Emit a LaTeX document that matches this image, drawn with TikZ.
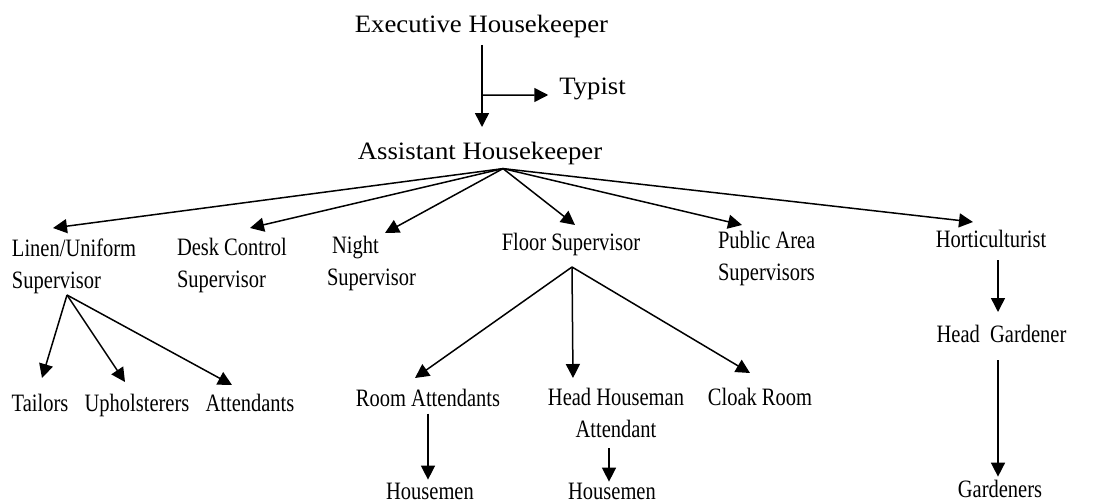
\documentclass[tikz,border=0pt]{standalone}
\usepackage{fontspec}
\usetikzlibrary{arrows.meta,calc}
\newfontfamily\topfont[FakeStretch=1.07]{Liberation Serif}
\newfontfamily\lowfont[FakeStretch=0.82]{Liberation Serif}
\tikzset{
  toplabel/.style={inner sep=0pt, outer sep=0pt, font=\topfont\fontsize{25}{32}\selectfont},
  lowlabel/.style={inner sep=0pt, outer sep=0pt, font=\lowfont\fontsize{25}{32}\selectfont},
  link/.style={line width=1.5pt, -{Triangle[length=14pt,width=14pt]}},
  plain/.style={line width=1.5pt}
}
\begin{document}
\begin{tikzpicture}[x=1pt,y=-1pt]
\path[use as bounding box, fill=white] (0,0) rectangle (1098,503);

% top levels
\node[toplabel, anchor=base] (exec) at (481.5,33) {Executive Housekeeper\strut};
\node[toplabel, anchor=base] (typist) at (592.5,95) {Typist\strut};
\node[toplabel, anchor=base] (ah) at (480,159) {Assistant Housekeeper\strut};

% second level
\node[lowlabel, anchor=north west, align=left] (linen) at (12,233.6) {Linen/Uniform\strut\\Supervisor\strut};
\node[lowlabel, anchor=north west, align=left] (desk) at (177,233) {Desk Control\strut\\Supervisor\strut};
\node[lowlabel, anchor=north west, align=left] (night) at (327,230.6) {\hspace*{5pt}Night\strut\\Supervisor\strut};
\node[lowlabel, anchor=base] (floor) at (571,250) {Floor Supervisor\strut};
\node[lowlabel, anchor=north west, align=left] (public) at (718,225.6) {Public Area\strut\\Supervisors\strut};
\node[lowlabel, anchor=base] (hort) at (991,247) {Horticulturist\strut};

% third level
\node[lowlabel, anchor=base] (tailors) at (40,411) {Tailors\strut};
\node[lowlabel, anchor=base] (uph) at (137,411) {Upholsterers\strut};
\node[lowlabel, anchor=base] (att) at (250,411) {Attendants\strut};
\node[lowlabel, anchor=base] (room) at (428,406) {Room Attendants\strut};
\node[lowlabel, anchor=north, align=center] (hh) at (616,382.6) {Head Houseman\strut\\Attendant\strut};
\node[lowlabel, anchor=base] (cloak) at (760,405) {Cloak Room\strut};
\node[lowlabel, anchor=base] (hg) at (1001.5,342) {Head~~Gardener\strut};

% fourth level (no struts: they sit at the bottom edge)
\node[lowlabel, anchor=base] (hm1) at (430,499) {Housemen};
\node[lowlabel, anchor=base] (hm2) at (612,499) {Housemen};
\node[lowlabel, anchor=base] (gd) at (1000,497) {Gardeners};

% executive to assistant, with typist branch
\draw[link] ($(exec.south)+(0.5,2.4)$) -- ($(ah.north)+(2,-9.6)$);
\coordinate (br) at ($(exec.south)+(0.5,52.4)$);
\draw[link] (br) -- ($(typist.base west)+(-11,0)$);

% fan from assistant housekeeper
\coordinate (apex) at ($(ah.south)+(23,0)$);
\draw[link] (apex) -- ($(linen.north west)+(41,-5.6)$);
\draw[link] (apex) -- ($(desk.north west)+(73,-5)$);
\draw[link] (apex) -- ($(night.north west)+(58,2.4)$);
\draw[link] (apex) -- ($(floor.north)+(4,-2.6)$);
\draw[link] (apex) -- ($(public.north west)+(24,-0.6)$);
\draw[link] (apex) -- ($(hort.north)+(-18,-2.6)$);

% linen branch
\coordinate (lapex) at ($(linen.south west)+(55,-2.6)$);
\draw[link] (lapex) -- ($(tailors.north)+(2,-10.6)$);
\draw[link] (lapex) -- ($(uph.north)+(-12,-6.6)$);
\draw[link] (lapex) -- ($(att.north)+(-18,-3.6)$);

% floor branch
\coordinate (fapex) at ($(floor.south)+(1,7.4)$);
\draw[link] (fapex) -- ($(room.north)+(-13,-5.6)$);
\draw[link] (fapex) -- ($(hh.north)+(-43,-4.6)$);
\draw[link] (fapex) -- ($(cloak.north)+(-10,-9.6)$);

% housemen
\draw[link] ($(room.south)+(0,-2)$) -- ($(hm1.north)+(-2,-3)$);
\draw[link] ($(hh.south)+(-7,1.4)$) -- ($(hm2.north)+(-3,-1)$);

% gardening
\draw[link] ($(hort.south)+(7,3.4)$) -- ($(hg.north)+(-3.5,-7.6)$);
\draw[link] ($(hg.south)+(-3.5,8.4)$) -- ($(gd.north)+(-2,-3)$);
\end{tikzpicture}
\end{document}
